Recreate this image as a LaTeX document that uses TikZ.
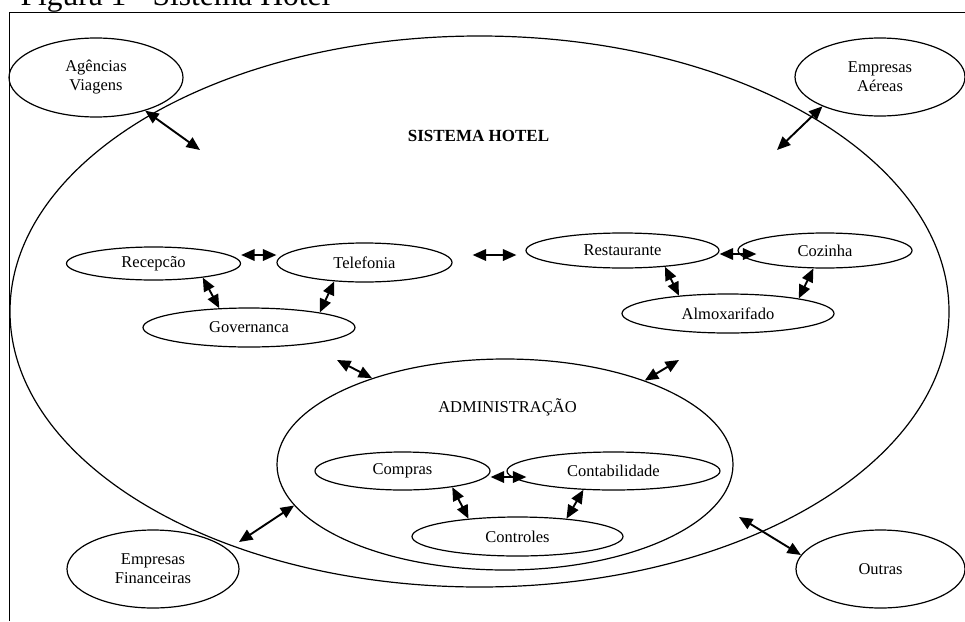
\documentclass[tikz,border=0pt]{standalone}
\usepackage{fontspec}
\setmainfont{Liberation Serif}
\usetikzlibrary{shapes.geometric,arrows.meta}

\begin{document}
\begin{tikzpicture}[x=1pt, y=-1pt, line width=1.2pt,
    bolha/.style={draw, ellipse, inner sep=0pt, align=center, font=\fontsize{16.5}{19}\selectfont},
    seta/.style={{Triangle[length=13.5pt,width=11.5pt]}-{Triangle[length=13.5pt,width=11.5pt]}, line width=1.9pt}]
    \useasboundingbox (0,0) rectangle (965,621);
    \node[anchor=base west, inner sep=0pt, font=\fontsize{31.5}{36}\selectfont] (titulo) at (20,5.5) {Figura 1 - Sistema Hotel};
    \draw (9.5,621) -- (9.5,12.3) -- (965,12.3);

    % sistema e administracao
    \node[bolha, minimum width=939pt, minimum height=551pt] (hotel) at (479.5,311.5) {};
    \node[anchor=base, font=\bfseries\fontsize{17}{20}\selectfont] (hoteltxt) at (478.5,141.7) {SISTEMA HOTEL};
    \node[bolha, minimum width=456pt, minimum height=211pt] (adm) at (505,464.5) {};
    \node[anchor=base, font=\fontsize{16.5}{19}\selectfont] (admtxt) at (507.5,412.5) {ADMINISTRAÇÃO};

    % entidades externas
    \node[bolha, minimum width=174pt, minimum height=79pt] (agencias) at (96,77.5) {Agências\\Viagens};
    \node[bolha, minimum width=170pt, minimum height=78pt] (aereas) at (880,77) {Empresas\\Aéreas};
    \node[bolha, minimum width=172pt, minimum height=78pt] (financeiras) at (153,569) {Empresas\\Financeiras};
    \node[bolha, minimum width=169pt, minimum height=78pt] (outras) at (880.5,569) {Outras};

    % setores
    \node[bolha, minimum width=174pt, minimum height=33pt] (recepcao) at (153.5,263.5) {Recepcão};
    \node[bolha, minimum width=175pt, minimum height=39pt] (telefonia) at (364.5,262.5) {Telefonia};
    \node[bolha, minimum width=212pt, minimum height=39pt] (governanca) at (249,327.5) {Governanca};
    \node[bolha, minimum width=193pt, minimum height=35pt] (restaurante) at (622.5,250.5) {Restaurante};
    \node[bolha, minimum width=174pt, minimum height=35pt] (cozinha) at (825,250.5) {Cozinha};
    \node[bolha, minimum width=212pt, minimum height=39pt] (almox) at (728,313.5) {Almoxarifado};
    \node[bolha, minimum width=175pt, minimum height=38pt] (compras) at (402.5,471) {Compras};
    \node[bolha, minimum width=213pt, minimum height=38pt] (contab) at (613.5,471) {Contabilidade};
    \node[bolha, minimum width=211pt, minimum height=39pt] (controles) at (517.5,536.5) {Controles};

    % pontas livres
    \coordinate (hot-ag) at (200,150);
    \coordinate (hot-ae) at (777,150);
    \coordinate (adm-l) at (337,360);
    \coordinate (adm-r) at (679,360);
    \coordinate (fin-a) at (239,542);
    \coordinate (out-a) at (739,517);

    % setas
    \draw[seta] (agencias.-34) -- (hot-ag);
    \draw[seta] (aereas.207) -- (hot-ae);
    \draw[seta] ([yshift=8.5pt]recepcao.east) -- ([yshift=7.5pt]telefonia.west);
    \draw[seta] (recepcao.-16) -- (governanca.147);
    \draw[seta] (telefonia.212) -- (governanca.12);
    \draw[seta] ([xshift=20pt,yshift=7.5pt]telefonia.east) -- ([xshift=-9pt,yshift=-4.5pt]restaurante.west);
    \draw[seta] ([yshift=-3.5pt]restaurante.east) -- ([xshift=19pt,yshift=-3.5pt]cozinha.west);
    \draw[seta] (restaurante.-21) -- (almox.160);
    \draw[seta] (cozinha.237) -- (almox.12);
    \draw[seta] (adm-l) -- (adm.147);
    \draw[seta] (adm-r) -- (adm.31);
    \draw[seta] ([yshift=-6pt]compras.east) -- ([xshift=20pt,yshift=-6pt]contab.west);
    \draw[seta] (compras.-18) -- (controles.160);
    \draw[seta] (contab.212) -- (controles.20);
    \draw[seta] (fin-a) -- (adm.191);
    \draw[seta] (out-a) -- (outras.170);
\end{tikzpicture}
\end{document}
